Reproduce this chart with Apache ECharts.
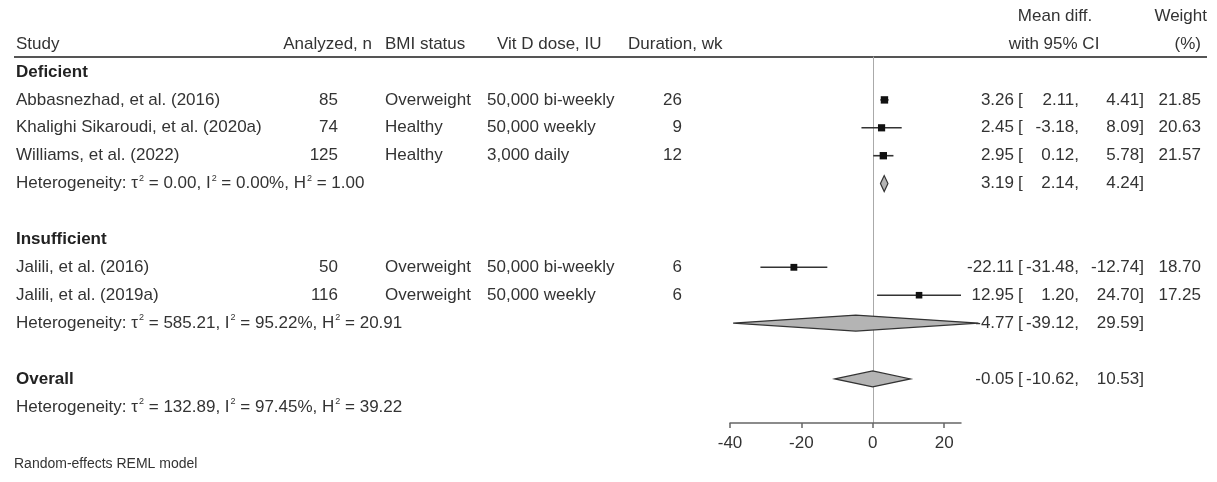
<!DOCTYPE html>
<html>
<head>
<meta charset="utf-8">
<script src="https://cdn.jsdelivr.net/npm/echarts@6/dist/echarts.min.js"></script>
<style>
  html, body { margin: 0; padding: 0; background: #fff; }
  #chart { width: 1217px; height: 482px; }
</style>
</head>
<body>
<div id="chart"></div>
<script>
// individual studies
const studyNames = ["Abbasnezhad, et al. (2016)", "Khalighi Sikaroudi, et al. (2020a)", "Williams, et al. (2022)", "Jalili, et al. (2016)", "Jalili, et al. (2019a)"];
const studyRows = [1, 2, 3, 7, 8];
const analyzedN = [85, 74, 125, 50, 116];
const bmiStatus = ["Overweight", "Healthy", "Healthy", "Overweight", "Overweight"];
const vitDDose = ["50,000 bi-weekly", "50,000 weekly", "3,000 daily", "50,000 bi-weekly", "50,000 weekly"];
const durationWk = [26, 9, 12, 6, 6];
const meanDiff = [3.26, 2.45, 2.95, -22.11, 12.95];
const ciLow = [2.11, -3.18, 0.12, -31.48, 1.20];
const ciHigh = [4.41, 8.09, 5.78, -12.74, 24.70];
const weightPct = [21.85, 20.63, 21.57, 18.70, 17.25];

// subgroups and overall
const groupNames = ["Deficient", "Insufficient", "Overall"];
const groupRows = [0, 6, 11];
const pooledRows = [4, 9, 11];
const pooledMean = [3.19, -4.77, -0.05];
const pooledLow = [2.14, -39.12, -10.62];
const pooledHigh = [4.24, 29.59, 10.53];
const hetRows = [4, 9, 12];
const hetTau2 = ["0.00", "585.21", "132.89"];
const hetI2 = ["0.00%", "95.22%", "97.45%"];
const hetH2 = ["1.00", "20.91", "39.22"];

const xTicks = [-40, -20, 0, 20];

const FONT = '"Liberation Sans", Arial, sans-serif';
const FS = 17;
const INK = "#333";

const txt = (text, x, y, align, extra) => ({
  type: "text",
  style: Object.assign({
    text: text, x: x, y: y,
    textAlign: align, textVerticalAlign: "middle",
    fontFamily: FONT, fontSize: FS, fill: INK
  }, extra || {})
});

const f2 = (v) => v.toFixed(2);

const chart = echarts.init(document.getElementById("chart"), null, { renderer: "canvas" });

const options = {
  animation: false,
  grid: { left: 730, right: 256, top: 57, bottom: 59 },
  xAxis: {
    type: "value",
    min: -40,
    max: 24.7,
    axisLine: { show: true, onZero: false, lineStyle: { color: "#666", width: 1.5 } },
    axisTick: { show: true, length: 5, customValues: xTicks, lineStyle: { color: "#666", width: 1.5 } },
    axisLabel: { customValues: xTicks, margin: 12, color: INK, fontFamily: FONT, fontSize: FS },
    splitLine: { show: false }
  },
  yAxis: {
    type: "value",
    inverse: true,
    min: -0.5376,
    max: 12.58,
    axisLine: { show: true, onZero: true, lineStyle: { color: "#aaa", width: 1 } },
    axisTick: { show: false },
    axisLabel: { show: false },
    splitLine: { show: false }
  },
  graphic: [
    { type: "line", shape: { x1: 14, y1: 57, x2: 1207, y2: 57 }, style: { stroke: "#555", lineWidth: 2 } },
    txt("Study", 16, 44, "left"),
    txt("Analyzed, n", 372, 44, "right"),
    txt("BMI status", 385, 44, "left"),
    txt("Vit D dose, IU", 497, 44, "left"),
    txt("Duration, wk", 628, 44, "left"),
    txt("Mean diff.", 1055, 16, "center"),
    txt("with 95% CI", 1054, 44, "center"),
    txt("Weight", 1207, 16, "right"),
    txt("(%)", 1201, 44, "right"),
    txt("Random-effects REML model", 14, 464, "left", { fontSize: 14 })
  ],
  series: [
    {
      // study rows: confidence interval + weighted square
      name: "studies",
      type: "custom",
      data: studyRows.map((r, i) => [meanDiff[i], r, ciLow[i], ciHigh[i], weightPct[i]]),
      encode: { x: [0, 2, 3], y: 1 },
      renderItem: function (params, api) {
        const row = api.value(1);
        const p0 = api.coord([api.value(2), row]);
        const p1 = api.coord([api.value(3), row]);
        const pm = api.coord([api.value(0), row]);
        const s = 7.4 * Math.sqrt(api.value(4) / 21.85);
        return {
          type: "group",
          children: [
            { type: "line", shape: { x1: p0[0], y1: p0[1], x2: p1[0], y2: p1[1] }, style: { stroke: "#333", lineWidth: 1.6 } },
            { type: "rect", shape: { x: pm[0] - s / 2, y: pm[1] - s / 2, width: s, height: s }, style: { fill: "#111" } }
          ]
        };
      }
    },
    {
      // pooled estimates as diamonds
      name: "pooled",
      type: "custom",
      data: pooledRows.map((r, i) => [pooledMean[i], r, pooledLow[i], pooledHigh[i]]),
      encode: { x: [0, 2, 3], y: 1 },
      renderItem: function (params, api) {
        const row = api.value(1);
        const pl = api.coord([api.value(2), row]);
        const ph = api.coord([api.value(3), row]);
        const pm = api.coord([api.value(0), row]);
        const h = 8;
        return {
          type: "polygon",
          shape: { points: [[pl[0], pl[1]], [pm[0], pm[1] - h], [ph[0], ph[1]], [pm[0], pm[1] + h]] },
          style: { fill: "#b4b4b4", stroke: "#333", lineWidth: 1.2 }
        };
      }
    },
    {
      // table text for each study
      name: "studyText",
      type: "custom",
      data: studyRows.map((r) => [0, r]),
      renderItem: function (params, api) {
        const i = params.dataIndex;
        const y = api.coord([0, api.value(1)])[1];
        return {
          type: "group",
          children: [
            txt(studyNames[i], 16, y, "left"),
            txt(String(analyzedN[i]), 338, y, "right"),
            txt(bmiStatus[i], 385, y, "left"),
            txt(vitDDose[i], 487, y, "left"),
            txt(String(durationWk[i]), 682, y, "right"),
            txt(f2(meanDiff[i]), 1014, y, "right"),
            txt("[", 1018, y, "left"),
            txt(f2(ciLow[i]) + ",", 1079, y, "right"),
            txt(f2(ciHigh[i]) + "]", 1144, y, "right"),
            txt(f2(weightPct[i]), 1201, y, "right")
          ]
        };
      }
    },
    {
      // group headings
      name: "groupText",
      type: "custom",
      data: groupRows.map((r) => [0, r]),
      renderItem: function (params, api) {
        const y = api.coord([0, api.value(1)])[1];
        return txt(groupNames[params.dataIndex], 16, y, "left", { fontWeight: "bold", fill: "#222" });
      }
    },
    {
      // heterogeneity lines, with small raised squares
      name: "hetText",
      type: "custom",
      data: hetRows.map((r) => [0, r]),
      renderItem: function (params, api) {
        const i = params.dataIndex;
        const y = api.coord([0, api.value(1)])[1];
        return txt(
          "Heterogeneity: \u03c4{sup|2} = " + hetTau2[i] + ", I{sup|2} = " + hetI2[i] + ", H{sup|2} = " + hetH2[i],
          16, y, "left",
          { rich: { sup: { fontFamily: FONT, fontSize: 9, verticalAlign: "top", lineHeight: 20, fill: INK, padding: [0, 0, 0, 1] } } }
        );
      }
    },
    {
      // pooled estimate text
      name: "pooledText",
      type: "custom",
      data: pooledRows.map((r) => [0, r]),
      renderItem: function (params, api) {
        const i = params.dataIndex;
        const y = api.coord([0, api.value(1)])[1];
        return {
          type: "group",
          children: [
            txt(f2(pooledMean[i]), 1014, y, "right"),
            txt("[", 1018, y, "left"),
            txt(f2(pooledLow[i]) + ",", 1079, y, "right"),
            txt(f2(pooledHigh[i]) + "]", 1144, y, "right")
          ]
        };
      }
    }
  ]
};

chart.setOption(options);
window.addEventListener("resize", () => {
  chart.resize();
});
</script>
</body>
</html>
